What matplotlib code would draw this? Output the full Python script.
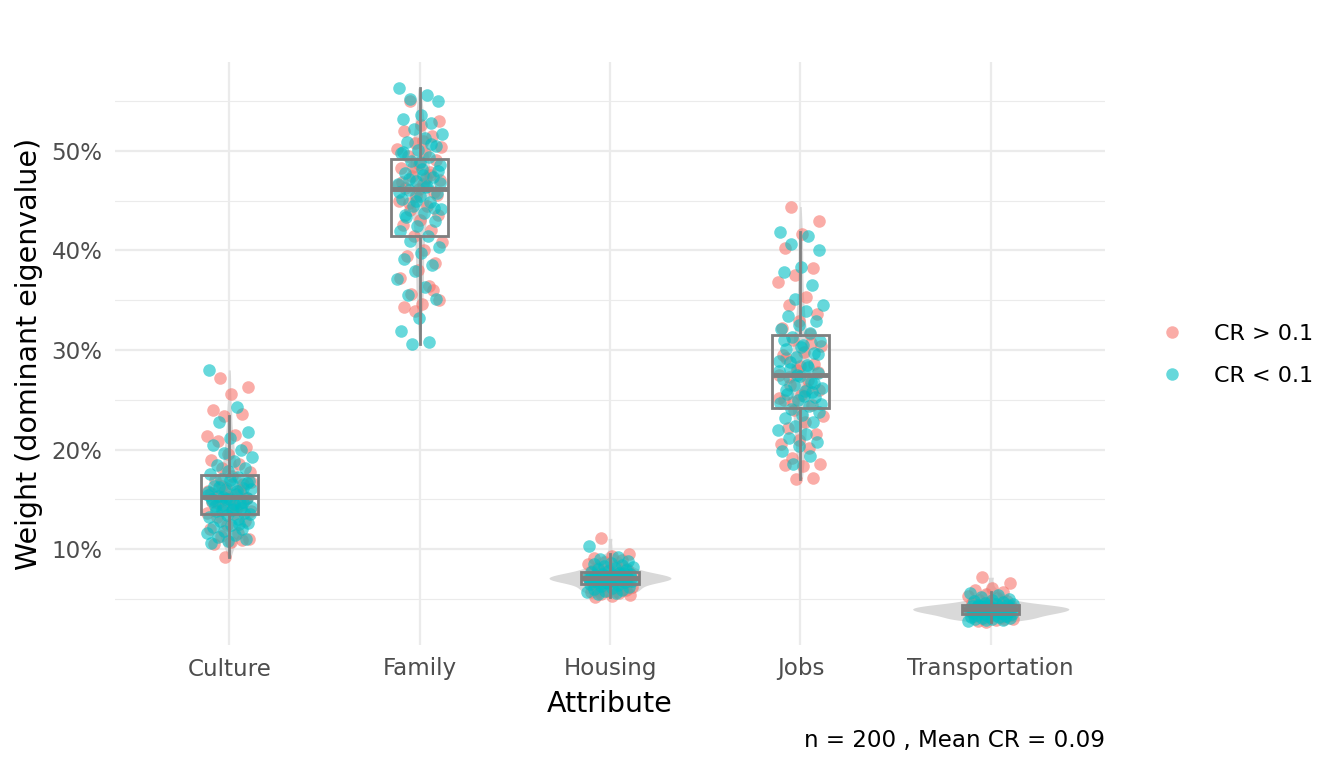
import matplotlib.pyplot as plt
import numpy as np
from matplotlib.lines import Line2D

# categories
attributes = ["Culture", "Family", "Housing", "Jobs", "Transportation"]

# poids (en %), par attribut et par groupe CR
culture_hi = [27.2, 26.3, 25.6, 24.0, 23.6, 23.4, 21.4, 21.5, 20.9, 20.3, 19.6, 19.0, 18.6, 18.2, 17.8, 17.4, 17.0, 16.6, 16.2, 15.9,
              15.6, 15.4, 15.2, 15.0, 14.7, 14.4, 14.1, 13.8, 13.5, 13.2, 12.8, 12.4, 12.0, 11.6, 11.3, 11.0, 10.7, 10.5, 10.9, 9.2,
              13.6, 14.0, 14.6, 15.1, 15.3, 15.7, 16.0, 16.4, 16.8, 14.3]
culture_lo = [28.0, 24.3, 22.8, 21.8, 21.2, 20.5, 20.0, 19.7, 19.3, 18.9, 18.5, 18.2, 17.9, 17.6, 17.3, 17.1, 16.9, 16.6, 16.4, 16.2,
              16.0, 15.8, 15.6, 15.4, 15.2, 15.0, 14.8, 14.6, 14.4, 14.2, 14.0, 13.8, 13.6, 13.4, 13.2, 13.0, 12.8, 12.6, 12.4, 12.2,
              12.0, 11.8, 11.6, 11.4, 11.2, 11.0, 10.8, 10.6, 12.5, 13.9, 13.5, 13.9, 14.3, 14.7, 15.1, 15.5, 15.9, 16.3, 16.7, 17.0,
              15.0, 14.1, 15.3, 16.1, 14.5]
family_hi = [55.0, 53.0, 52.6, 52.0, 51.5, 50.8, 50.2, 49.8, 49.5, 49.1, 48.7, 48.3, 47.9, 47.5, 47.1, 46.7, 46.3, 45.9, 45.5, 45.0,
             44.5, 44.0, 43.5, 43.0, 42.5, 42.0, 41.4, 40.8, 40.0, 39.4, 38.7, 38.0, 37.2, 36.4, 35.6, 35.0, 34.6, 34.3, 36.0, 33.9,
             46.6, 47.3, 44.8, 45.6, 46.2, 46.9, 47.6, 48.4, 50.4, 51.0]
family_lo = [56.3, 55.6, 55.2, 55.0, 53.6, 53.2, 52.8, 52.2, 51.7, 51.3, 50.9, 50.5, 50.1, 49.8, 49.4, 49.0, 48.6, 48.2, 47.8, 47.4,
             47.0, 46.7, 46.4, 46.1, 45.8, 45.5, 45.2, 44.9, 44.5, 44.1, 43.7, 43.3, 42.9, 42.4, 41.9, 41.4, 40.9, 40.3, 39.7, 39.1,
             38.5, 37.9, 37.1, 36.3, 35.5, 35.1, 33.2, 31.9, 30.8, 30.6, 46.8, 47.6, 43.5, 44.3, 45.0, 45.9, 46.5, 47.2, 48.0, 48.9,
             49.9, 50.7]
housing_hi = [11.1, 9.5, 9.3, 9.1, 8.9, 8.7, 8.5, 8.3, 8.1, 8.0, 7.9, 7.8, 7.7, 7.6, 7.5, 7.4, 7.3, 7.2, 7.1, 7.0,
              6.9, 6.8, 6.7, 6.6, 6.5, 6.4, 6.3, 6.2, 6.1, 6.0, 5.9, 5.8, 5.7, 5.6, 5.5, 5.4, 5.3, 5.2, 6.0, 7.0,
              7.2, 7.5, 6.9, 7.3]
housing_lo = [10.3, 9.2, 9.0, 8.8, 8.6, 8.5, 8.4, 8.3, 8.2, 8.1, 8.0, 7.9, 7.8, 7.7, 7.6, 7.55, 7.5, 7.45, 7.4, 7.35,
              7.3, 7.25, 7.2, 7.15, 7.1, 7.05, 7.0, 6.95, 6.9, 6.85, 6.8, 6.75, 6.7, 6.6, 6.5, 6.4, 6.3, 6.2, 6.1, 6.0,
              5.9, 5.8, 5.7, 5.6, 5.5, 7.2, 7.0, 6.8, 7.4, 6.6, 7.1, 7.3, 6.9, 7.6, 6.7, 7.0]
jobs_hi = [44.4, 42.9, 41.6, 40.2, 38.2, 37.5, 36.8, 35.3, 34.5, 33.6, 32.9, 32.2, 31.6, 31.0, 30.4, 29.8, 29.2, 28.6, 28.0, 27.5,
           27.0, 26.5, 26.0, 25.5, 25.0, 24.5, 24.0, 23.4, 22.8, 22.2, 21.6, 21.0, 20.6, 20.2, 19.2, 18.6, 18.4, 18.5, 17.2, 17.1,
           25.2, 26.1, 27.3, 27.8, 28.4, 29.5, 30.7, 24.8]
jobs_lo = [41.8, 41.4, 40.6, 40.0, 38.3, 37.8, 36.5, 35.1, 34.5, 33.9, 33.4, 32.9, 32.5, 32.1, 31.7, 31.3, 30.9, 30.5, 30.1, 29.7,
           29.3, 28.9, 28.5, 28.1, 27.7, 27.4, 27.1, 26.8, 26.5, 26.2, 25.9, 25.6, 25.3, 25.0, 24.7, 24.4, 24.1, 23.8, 23.5, 23.2,
           22.8, 22.4, 22.0, 21.6, 21.2, 20.8, 20.4, 19.9, 19.4, 18.6, 24.6, 25.4, 26.0, 26.7, 27.5, 27.9, 28.3, 28.8, 29.6, 30.3,
           31.0, 25.8]
transport_hi = [7.2, 6.6, 6.1, 5.9, 5.7, 5.5, 5.3, 5.1, 4.9, 4.8, 4.7, 4.6, 4.5, 4.4, 4.3, 4.2, 4.1, 4.0, 3.9, 3.8,
                3.7, 3.6, 3.5, 3.4, 3.3, 3.2, 3.1, 3.0, 2.9, 2.8, 4.0, 4.2, 3.8, 3.6, 4.4, 3.4, 3.9, 4.1, 3.0, 2.7,
                4.0, 3.7, 4.3]
transport_lo = [5.6, 5.4, 5.2, 5.0, 4.9, 4.8, 4.7, 4.6, 4.55, 4.5, 4.45, 4.4, 4.35, 4.3, 4.25, 4.2, 4.15, 4.1, 4.05, 4.0,
                3.95, 3.9, 3.85, 3.8, 3.75, 3.7, 3.65, 3.6, 3.55, 3.5, 3.45, 3.4, 3.35, 3.3, 3.25, 3.2, 3.15, 3.1, 3.05, 3.0,
                2.95, 2.9, 2.85, 4.0, 4.3, 3.7, 4.1, 3.9, 3.6, 4.2, 3.8, 4.0, 4.2, 3.6, 4.4]

hi_groups = [culture_hi, family_hi, housing_hi, jobs_hi, transport_hi]
lo_groups = [culture_lo, family_lo, housing_lo, jobs_lo, transport_lo]
legend_labels = ["CR > 0.1", "CR < 0.1"]
caption = "n = 200 , Mean CR = 0.09"

RED = "#F8766D"
TEAL = "#00BFC4"
GREY = "#7F7F7F"


def kde(values, grid):
    # densite gaussienne, largeur de bande nrd0 comme R
    v = np.asarray(values)
    n = len(v)
    iqr = np.subtract(*np.percentile(v, [75, 25]))
    bw = 0.9 * min(v.std(ddof=1), iqr / 1.34) * n ** (-0.2)
    d = np.exp(-0.5 * ((grid[:, None] - v[None, :]) / bw) ** 2).sum(axis=1)
    return d / (n * bw * np.sqrt(2 * np.pi))


def jitter(n, phase, width=0.12):
    # decalage horizontal deterministe
    return ((np.arange(n) * 0.6180339 + phase) % 1 - 0.5) * 2 * width


fig = plt.figure(figsize=(13.44, 7.68), dpi=100)
ax = fig.add_axes([115 / 1344, 1 - 645 / 768, 990 / 1344, 583 / 768])

positions = np.arange(1, len(attributes) + 1)
all_groups = [h + l for h, l in zip(hi_groups, lo_groups)]

# violons (echelle par aire)
dens = []
for vals in all_groups:
    grid = np.linspace(min(vals), max(vals), 200)
    dens.append((grid, kde(vals, grid)))
dmax = max(d.max() for _, d in dens)
for pos, (grid, d) in zip(positions, dens):
    half = d / dmax * 0.41
    ax.fill_betweenx(grid, pos - half, pos + half, color="#D9D9D9", lw=0, zorder=1)

# points
for pos, hi, lo in zip(positions, hi_groups, lo_groups):
    ax.scatter(pos + jitter(len(hi), 0.3), hi, s=82, color=RED, alpha=0.6, lw=0, zorder=2)
    ax.scatter(pos + jitter(len(lo), 0.05), lo, s=82, color=TEAL, alpha=0.6, lw=0, zorder=3)

# boites
ax.boxplot(all_groups, positions=positions, widths=0.3, showfliers=False, showcaps=False,
           patch_artist=True, manage_ticks=False, zorder=4,
           boxprops=dict(facecolor="none", edgecolor=GREY, linewidth=2),
           whiskerprops=dict(color=GREY, linewidth=2),
           medianprops=dict(color=GREY, linewidth=3.5))

ax.set_xlim(0.4, 5.6)
ax.set_ylim(0.4, 58.9)
ax.set_xticks(positions)
ax.set_xticklabels(attributes)
ax.set_yticks([10, 20, 30, 40, 50])
ax.set_yticklabels([f"{t}%" for t in [10, 20, 30, 40, 50]])
ax.set_yticks([5, 15, 25, 35, 45, 55], minor=True)
ax.tick_params(axis="both", which="both", length=0, labelsize=16.6, labelcolor="#4D4D4D")
ax.tick_params(axis="x", pad=9)
ax.tick_params(axis="y", pad=9)
ax.grid(True, which="major", color="#EBEBEB", lw=1.6)
ax.grid(True, which="minor", axis="y", color="#EBEBEB", lw=0.8)
ax.set_axisbelow(True)
for s in ax.spines.values():
    s.set_visible(False)

ax.set_xlabel("Attribute", fontsize=20.5, labelpad=7)
ax.set_ylabel("Weight (dominant eigenvalue)", fontsize=20.5, labelpad=6)

handles = [Line2D([], [], ls="", marker="o", markersize=9, color=RED, alpha=0.6, mec="none"),
           Line2D([], [], ls="", marker="o", markersize=9, color=TEAL, alpha=0.6, mec="none")]
fig.legend(handles, legend_labels, loc="center left", bbox_to_anchor=(1130 / 1344, 1 - 355 / 768),
           frameon=False, fontsize=16, labelspacing=1.0, handletextpad=0.9)

fig.text(1105 / 1344, 1 - 740 / 768, caption, ha="right", va="center", fontsize=16.6)

fig.savefig("out.png", dpi=100)
